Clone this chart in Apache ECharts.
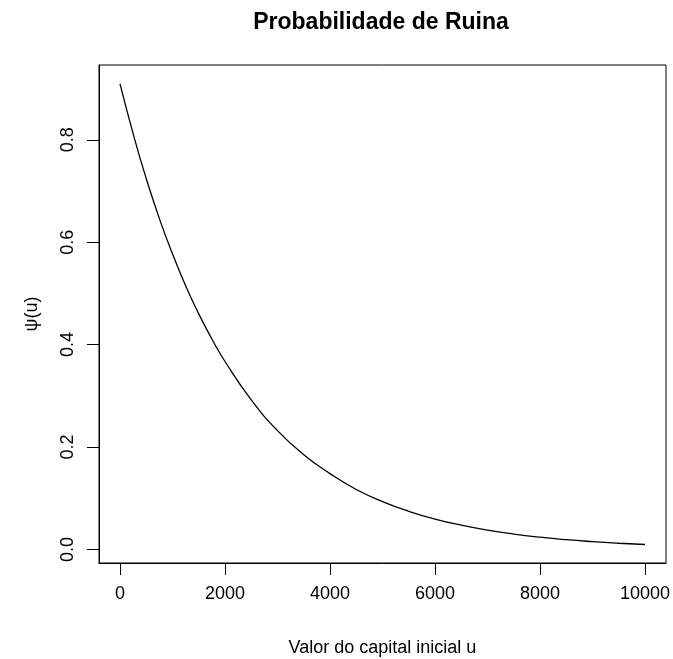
<!DOCTYPE html>
<html>
<head>
<meta charset="utf-8">
<script src="https://cdn.jsdelivr.net/npm/echarts@6/dist/echarts.min.js"></script>
<style>
html,body{margin:0;padding:0;background:#fff;}
#chart{width:673px;height:659px;}
</style>
</head>
<body>
<div id="chart"></div>
<script>
var capital = [0,250,500,750,1000,1250,1500,1750,2000,2500,3000,3500,4000,4500,5000,5500,6000,6500,7000,7500,8000,8500,9000,9500,10000];
var psi = [0.909,0.812,0.724,0.646,0.577,0.515,0.460,0.411,0.367,0.292,0.232,0.185,0.148,0.117,0.0935,0.0745,0.0593,0.0473,0.0376,0.0300,0.0239,0.0190,0.0152,0.0121,0.0096];
var xTicks = [0,2000,4000,6000,8000,10000];
var yTicks = [0,0.2,0.4,0.6,0.8];
var titleText = 'Probabilidade de Ruina';
var xName = 'Valor do capital inicial u';
var yName = 'ψ(u)';

var FONT = 'Liberation Sans, Arial, sans-serif';
var chart = echarts.init(document.getElementById('chart'));
chart.setOption({
  backgroundColor: '#fff',
  animation: false,
  title: {
    text: titleText,
    left: 376, top: 6,
    textAlign: 'center',
    textStyle: {fontFamily: FONT, fontSize: 23, fontWeight: 'bold', color: '#000'}
  },
  grid: {
    left: 99, top: 65, width: 567, height: 498,
    show: true, borderColor: '#000', borderWidth: 1, backgroundColor: 'transparent',
    outerBoundsMode: 'none'
  },
  xAxis: {
    type: 'value', min: -400, max: 10400,
    axisLine: {show: true, onZero: false, lineStyle: {color: '#000', width: 1}},
    axisTick: {show: true, length: 12, customValues: xTicks, lineStyle: {color: '#000'}},
    axisLabel: {customValues: xTicks, margin: 22, fontFamily: FONT, fontSize: 18, color: '#000',
      formatter: function (v) { return String(v); }},
    splitLine: {show: false},
    name: xName, nameLocation: 'middle', nameGap: 76,
    nameTextStyle: {fontFamily: FONT, fontSize: 18, color: '#000'}
  },
  yAxis: {
    type: 'value', min: -0.0265, max: 0.946,
    axisLine: {show: true, onZero: false, lineStyle: {color: '#000', width: 1}},
    axisTick: {show: true, length: 12, customValues: yTicks, lineStyle: {color: '#000'}},
    axisLabel: {customValues: yTicks, rotate: 90, margin: 22, fontFamily: FONT, fontSize: 18, color: '#000',
      formatter: function (v) { return v.toFixed(1); }},
    splitLine: {show: false},
    name: yName, nameLocation: 'middle', nameGap: 58, nameRotate: 90,
    nameTextStyle: {fontFamily: FONT, fontSize: 18, color: '#000'}
  },
  series: [{
    type: 'line',
    data: capital.map(function (u, i) { return [u, psi[i]]; }),
    smooth: true,
    showSymbol: false,
    lineStyle: {color: '#000', width: 1.3}
  }]
});
</script>
</body>
</html>
